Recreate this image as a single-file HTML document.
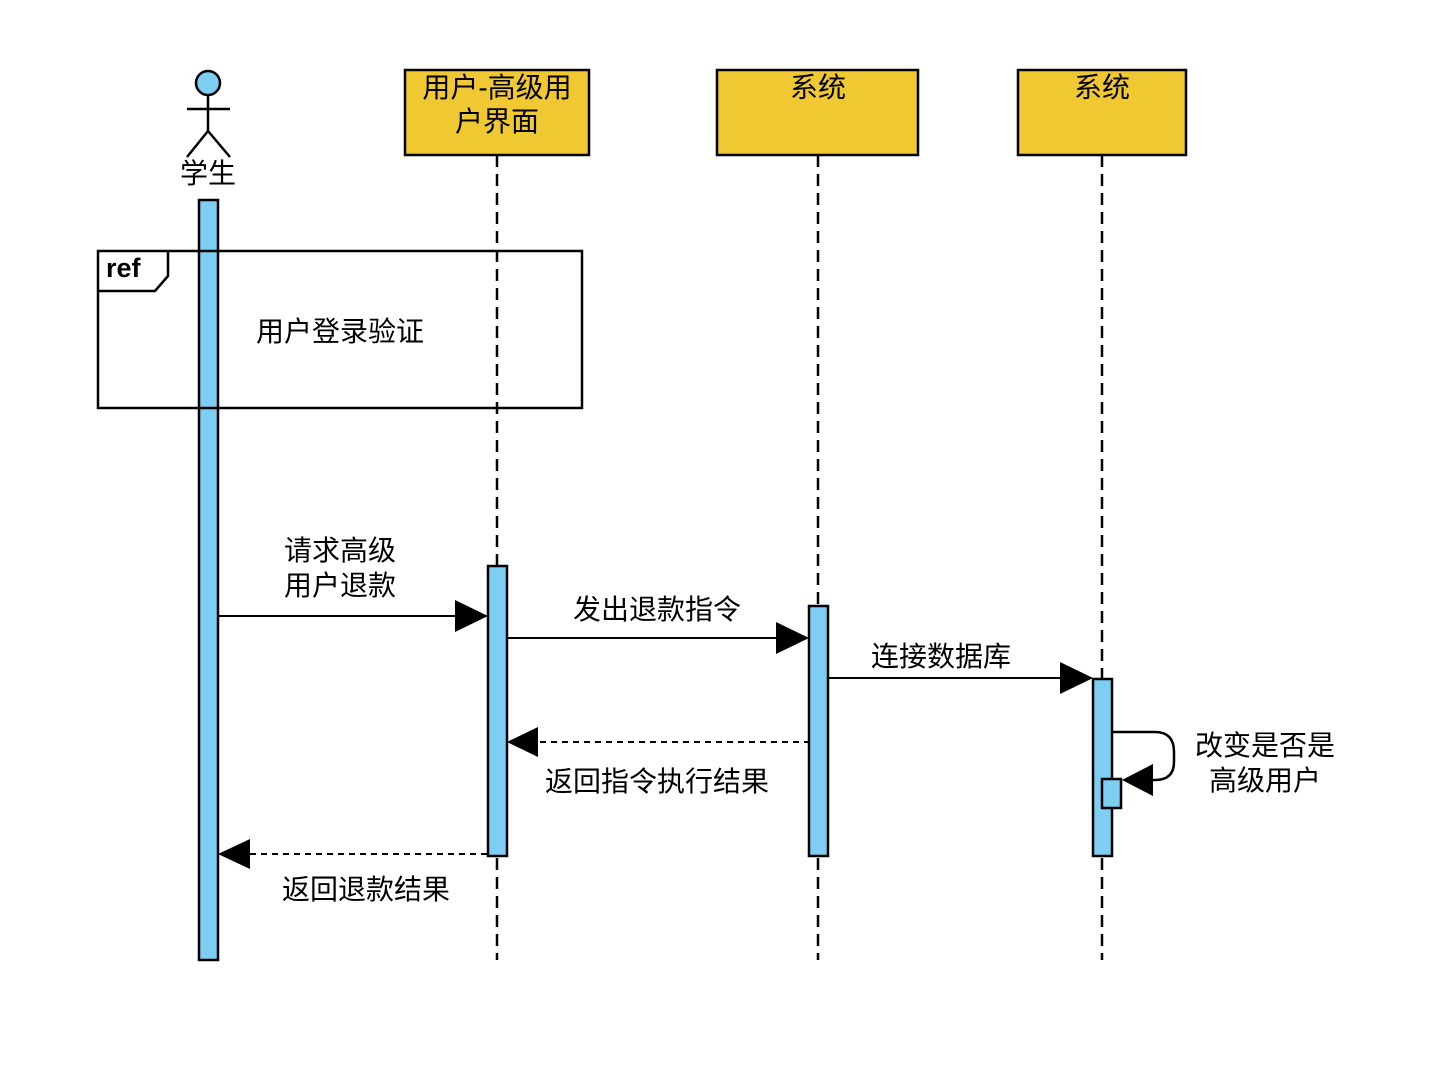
<!DOCTYPE html>
<html><head><meta charset="utf-8"><style>
html,body{margin:0;padding:0;background:#fff;}
svg{display:block}
text{font-family:"Liberation Sans","Noto Sans CJK SC",sans-serif;font-size:28px;fill:#000}
</style></head><body>
<svg width="1438" height="1070" viewBox="0 0 1438 1070" xmlns="http://www.w3.org/2000/svg">
<g stroke="#000" stroke-width="2.5" fill="none">
<line x1="497" y1="155" x2="497" y2="960" stroke-dasharray="12,7"/>
<line x1="818" y1="155" x2="818" y2="960" stroke-dasharray="12,7"/>
<line x1="1102" y1="155" x2="1102" y2="960" stroke-dasharray="12,7"/>
</g>
<circle cx="208" cy="83" r="12" fill="#7ecef4" stroke="#000" stroke-width="2.5"/>
<g stroke="#000" stroke-width="2.5">
<line x1="208" y1="95" x2="208" y2="131"/>
<line x1="187" y1="109" x2="230" y2="109"/>
<line x1="208" y1="131" x2="187" y2="157"/>
<line x1="208" y1="131" x2="230" y2="157"/>
</g>
<text x="208" y="183" text-anchor="middle">学生</text>
<g fill="#f0c832" stroke="#000" stroke-width="2.5">
<rect x="405" y="70" width="184" height="85"/>
<rect x="717" y="70" width="201" height="85"/>
<rect x="1018" y="70" width="168" height="85"/>
</g>
<text x="497" y="97" text-anchor="middle">用户-高级用</text>
<text x="497" y="131" text-anchor="middle">户界面</text>
<text x="818" y="97" text-anchor="middle">系统</text>
<text x="1102" y="97" text-anchor="middle">系统</text>
<g fill="#7ecef4" stroke="#000" stroke-width="2.5">
<rect x="199" y="200" width="19" height="760"/>
<rect x="488" y="566" width="19" height="290"/>
<rect x="809" y="606" width="19" height="250"/>
<rect x="1093" y="679" width="19" height="177"/>
</g>
<g stroke="#000" stroke-width="2.5" fill="none">
<rect x="98" y="251" width="484" height="157"/>
<path d="M98 291 H155 L168 276 V251"/>
</g>
<text x="106" y="277" style="font-weight:bold;font-size:27px">ref</text>
<text x="340" y="341" text-anchor="middle">用户登录验证</text>
<g stroke="#000" stroke-width="2">
<line x1="218" y1="616" x2="460" y2="616"/>
<line x1="507" y1="638" x2="780" y2="638"/>
<line x1="828" y1="678" x2="1064" y2="678"/>
<line x1="540" y1="742" x2="809" y2="742" stroke-dasharray="6,5"/>
<line x1="250" y1="854" x2="488" y2="854" stroke-dasharray="6,5"/>
</g>
<g fill="#000">
<polygon points="488,616 455,600 455,632"/>
<polygon points="809,638 776,622 776,654"/>
<polygon points="1093,678 1060,662 1060,694"/>
<polygon points="507,742 538,727 538,757"/>
<polygon points="218,854 250,839 250,869"/>
<polygon points="1122,780 1153,764 1153,796"/>
</g>
<path d="M1112 732 H1155 Q1174 732 1174 752 V762 Q1174 780 1155 780 H1150" stroke="#000" stroke-width="2.5" fill="none"/>
<rect x="1102" y="779" width="19" height="29" fill="#7ecef4" stroke="#000" stroke-width="2.5"/>
<text x="340" y="560" text-anchor="middle">请求高级</text>
<text x="340" y="595" text-anchor="middle">用户退款</text>
<text x="657" y="619" text-anchor="middle">发出退款指令</text>
<text x="941" y="666" text-anchor="middle">连接数据库</text>
<text x="657" y="791" text-anchor="middle">返回指令执行结果</text>
<text x="366" y="899" text-anchor="middle">返回退款结果</text>
<text x="1265" y="755" text-anchor="middle">改变是否是</text>
<text x="1265" y="790" text-anchor="middle">高级用户</text>
</svg>
</body></html>
